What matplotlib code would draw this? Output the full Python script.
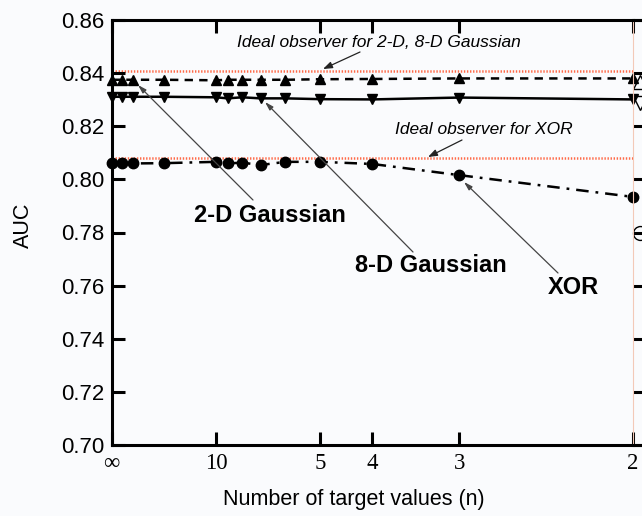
import numpy as np
import matplotlib
matplotlib.use("Agg")
import matplotlib.pyplot as plt

# ---------------- data ----------------
n_values = [np.inf, 100, 50, 20, 10, 9, 8, 7, 6, 5, 4, 3, 2]
auc_2d_gauss = [0.8375, 0.8375, 0.8375, 0.8375, 0.8373, 0.8375, 0.8375, 0.8375, 0.8375, 0.8377, 0.8378, 0.8380, 0.8380]
auc_8d_gauss = [0.8311, 0.8311, 0.8311, 0.8311, 0.8309, 0.8305, 0.8309, 0.8305, 0.8305, 0.8302, 0.8301, 0.8308, 0.8301]
auc_xor = [0.8060, 0.8060, 0.8060, 0.8061, 0.8066, 0.8060, 0.8063, 0.8054, 0.8066, 0.8066, 0.8058, 0.8016, 0.7934]
ideal_gauss = 0.8408
ideal_xor = 0.8080
xtick_n = [np.inf, 10, 5, 4, 3, 2]
xtick_labels = ["\u221e", "10", "5", "4", "3", "2"]
yticks = [0.70, 0.72, 0.74, 0.76, 0.78, 0.80, 0.82, 0.84, 0.86]
# partially visible markers of the adjacent (cropped) panel
next_panel_auc = [0.8367, 0.8287, 0.7798]
next_panel_markers = ["^", "v", "o"]

x = 1.0 / np.array(n_values, dtype=float)
xt = 1.0 / np.array(xtick_n, dtype=float)

plt.rcParams['font.family'] = ['Liberation Sans', 'DejaVu Sans']
plt.rcParams['lines.scale_dashes'] = False

BG = '#fafbfd'
fig = plt.figure(figsize=(6.42, 5.16), dpi=100, facecolor=BG)
W, H = 642.0, 516.0
L, R, T, B = 111.7, 633.0, 20.0, 445.0
ax = fig.add_axes([L / W, (H - B) / H, (R - L) / W, (B - T) / H])
ax.set_facecolor(BG)

ax.set_xlim(0, 0.5)
ax.set_ylim(0.70, 0.86)

red = '#ff6a48'
ax.hlines([ideal_gauss, ideal_xor], 0, 0.5, colors=red, linestyles=(0, (1.0, 1.2)), linewidth=1.8, zorder=1)

ms = 7.5
ax.plot(x, auc_2d_gauss, color='black', lw=1.8, dashes=(6, 4.5), marker='^', ms=ms, clip_on=False, zorder=3)
ax.plot(x, auc_8d_gauss, color='black', lw=1.8, ls='-', marker='v', ms=ms, clip_on=False, zorder=3)
ax.plot(x, auc_xor, color='black', lw=1.8, dashes=(9, 5, 2, 5), marker='o', ms=ms, clip_on=False, zorder=3)

for s in ['left', 'bottom', 'top']:
    ax.spines[s].set_linewidth(2.2)
ax.spines['right'].set_visible(False)

ax.set_xticks(xt)
ax.set_xticklabels(xtick_labels, family=['Liberation Serif', 'DejaVu Serif'], fontsize=16.5)
ax.set_yticks(yticks)
ax.set_yticklabels([f"{v:.2f}" for v in yticks], fontsize=16)
ax.tick_params(axis='x', direction='in', length=9.5, width=2.2, top=True, pad=6)
ax.tick_params(axis='y', direction='in', length=9.5, width=2.2, right=False, pad=5)

ax.set_xlabel("Number of target values (n)", fontsize=15.5)
ax.xaxis.set_label_coords(0.465, -0.103)
ax.set_ylabel("AUC", fontsize=15.5)
ax.yaxis.set_label_coords(-0.15, 0.518)

def px(p):
    return (p - L) / 1042.6

def py(p):
    return 0.86 - (p - T) / 2656.25

big = dict(fontsize=17, fontweight='bold', ha='center', va='center')
gray_arrow = dict(arrowstyle='-|>,head_length=0.5,head_width=0.15', color='#444444', lw=0.9, shrinkA=0, shrinkB=0)
ax.annotate('', xy=(px(138), py(85)), xytext=(px(253), py(200)), arrowprops=gray_arrow)
ax.text(px(270), py(216), "2-D Gaussian", **big)
ax.annotate('', xy=(px(265), py(102)), xytext=(px(413), py(252)), arrowprops=gray_arrow)
ax.text(px(431), py(265), "8-D Gaussian", **big)
ax.annotate('', xy=(px(464), py(182)), xytext=(px(558), py(273)), arrowprops=gray_arrow)
ax.text(px(573), py(288), "XOR", **big)

ital = dict(fontsize=12.5, style='italic', ha='center', va='center')
black_arrow = dict(arrowstyle='-|>,head_length=0.55,head_width=0.2', color='#222222', lw=0.9, shrinkA=0, shrinkB=0)
ax.text(px(379), py(42.5), "Ideal observer for 2-D, 8-D Gaussian", **ital)
ax.annotate('', xy=(px(323), py(69)), xytext=(px(360), py(52)), arrowprops=black_arrow)
ax.text(px(484), py(129), "Ideal observer for XOR", **ital)
ax.annotate('', xy=(px(428), py(157)), xytext=(px(462), py(140)), arrowprops=black_arrow)

# adjacent cropped panel
ax2 = fig.add_axes([R / W, (H - B) / H, 521.3 / W, (B - T) / H])
ax2.set_facecolor('none')
off = 7 / 1042.6
ax2.set_xlim(-off, 0.5 - off)
ax2.set_ylim(0.70, 0.86)
for s in ['top', 'bottom']:
    ax2.spines[s].set_linewidth(2.2)
ax2.spines['right'].set_visible(False)
ax2.spines['left'].set_color('#f3c9b8')
ax2.spines['left'].set_linewidth(0.8)
ax2.set_xticks([])
ax2.set_yticks(yticks)
ax2.set_yticklabels([])
ax2.tick_params(axis='y', direction='in', length=12, width=2.2, left=True, right=False, color='black')
for v, m in zip(next_panel_auc, next_panel_markers):
    ax2.plot([0], [v], marker=m, ms=10, mfc='none', mec='black', mew=1.0, ls='none', clip_on=False)

fig.savefig("out.png", dpi=100, facecolor=BG)
